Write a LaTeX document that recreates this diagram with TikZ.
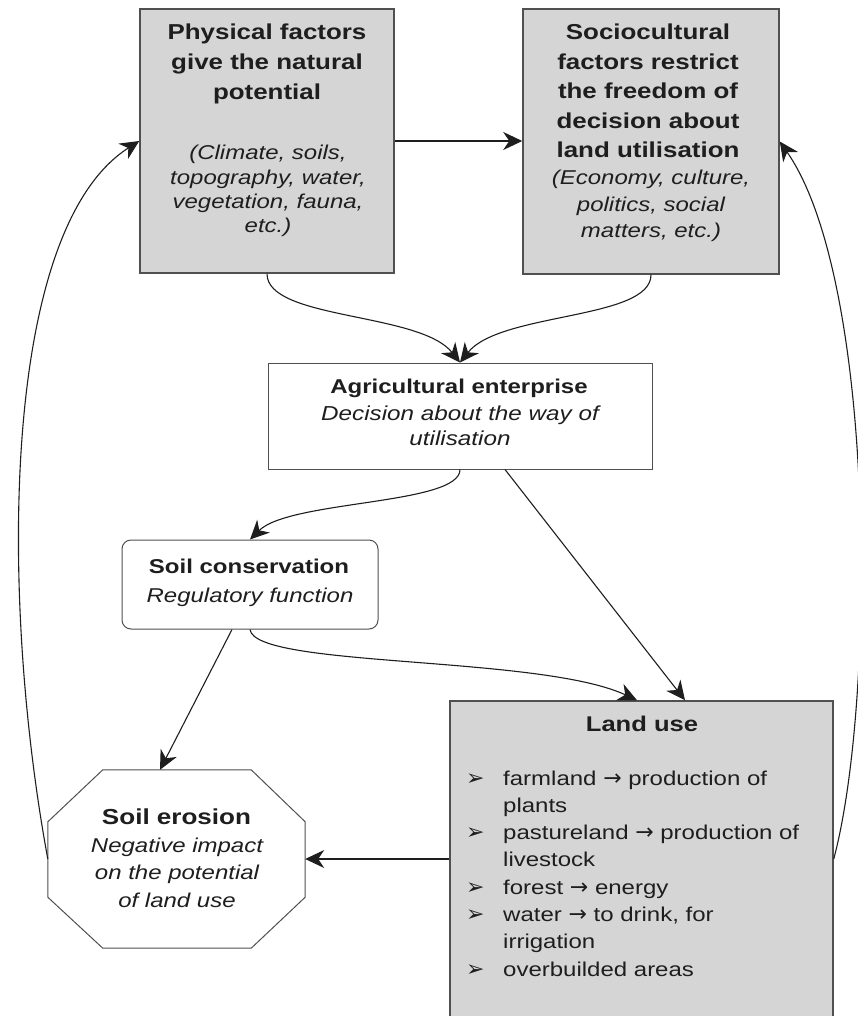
\documentclass[tikz,border=0pt]{standalone}
\usepackage{fontspec}
\setmainfont{Liberation Sans}[FakeStretch=1.2]
\newfontfamily\dejavu{DejaVu Sans}
\usetikzlibrary{arrows.meta,calc}
\definecolor{boxgray}{RGB}{213,213,213}
\definecolor{edge}{RGB}{80,80,80}
\definecolor{ink}{RGB}{30,30,30}
\newcommand{\blk}[4]{{\fontsize{#1}{#2}\selectfont#3\begin{tabular}[t]{@{}c@{}}#4\end{tabular}}}
\newcommand{\bul}{{\dejavu\fontsize{22}{22}\selectfont ➢}}
\newcommand{\rarr}{{\dejavu\fontsize{22}{22}\selectfont →}}
\begin{document}
\begin{tikzpicture}[x=1pt,y=-1pt,
  graybox/.style={draw=edge, line width=1.5pt, fill=boxgray, rectangle, inner sep=0pt},
  whitebox/.style={draw=edge, line width=1pt, fill=white, rectangle, inner sep=0pt},
  txt/.style={inner sep=0pt, text=ink},
  arr/.style={draw=ink, line width=1.1pt, -{Stealth[length=19pt,width=18pt,inset=6pt]}}]
\useasboundingbox (0,0) rectangle (858,1016);

% boxes
\node[graybox, minimum width=254pt, minimum height=264pt] (phys) at (267,141) {};
\node[graybox, minimum width=256pt, minimum height=265pt] (socio) at (651,141.5) {};
\node[whitebox, minimum width=384pt, minimum height=106pt] (agri) at (460,416) {};
\node[whitebox, rounded corners=9pt, minimum width=256pt, minimum height=89pt] (cons) at (250,584.5) {};
\node[inner sep=0pt, minimum width=257pt, minimum height=178pt] (eros) at (176.5,859) {};
\draw[draw=edge, line width=1pt, fill=white]
  ([xshift=55pt]eros.north west) -- ([xshift=-54pt]eros.north east)
  -- ([yshift=-52pt]eros.north east) -- ([yshift=51pt]eros.south east)
  -- ([xshift=-54pt]eros.south east) -- ([xshift=55pt]eros.south west)
  -- ([yshift=51pt]eros.south west) -- ([yshift=-52pt]eros.north west) -- cycle;
\node[graybox, minimum width=383pt, minimum height=316pt] (land) at (641.5,859) {};

% texts
\node[txt, anchor=base] (physB) at (267,40) {\blk{21.6}{30}{\bfseries}{Physical factors\\give the natural\\potential}};
\node[txt, anchor=base] (physI) at (268,160) {\blk{20}{24.3}{\itshape}{(Climate, soils,\\topography, water,\\vegetation, fauna,\\etc.)}};
\node[txt, anchor=base] (socioB) at (648,40) {\blk{21.6}{29.5}{\bfseries}{Sociocultural\\factors restrict\\the freedom of\\decision about\\land utilisation}};
\node[txt, anchor=base] (socioI) at (651,185) {\blk{20}{26.5}{\itshape}{(Economy, culture,\\politics, social\\matters, etc.)}};
\node[txt, anchor=base] (agriB) at (459,393) {\blk{20}{26}{\bfseries}{Agricultural enterprise}};
\node[txt, anchor=base] (agriI) at (460,420) {\blk{20.2}{25.5}{\itshape}{Decision about the way of\\utilisation}};
\node[txt, anchor=base] (consB) at (249,573) {\blk{20}{26}{\bfseries}{Soil conservation}};
\node[txt, anchor=base] (consI) at (250,602) {\blk{20}{26}{\itshape}{Regulatory function}};
\node[txt, anchor=base] (erosB) at (176.5,824) {\blk{21.7}{26}{\bfseries}{Soil erosion}};
\node[txt, anchor=base] (erosI) at (177,852) {\blk{20}{27.5}{\itshape}{Negative impact\\on the potential\\of land use}};
\node[txt, anchor=base] (landB) at (642,731) {\blk{21.3}{26}{\bfseries}{Land use}};
\node[txt, anchor=base west] (landL) at (466,785) {{\fontsize{20}{27.3}\selectfont
  \begin{tabular}[t]{@{}p{37pt}@{}l@{}}
  \bul & farmland \rarr{} production of\\
       & plants\\
  \bul & pastureland \rarr{} production of\\
       & livestock\\
  \bul & forest \rarr{} energy\\
  \bul & water \rarr{} to drink, for\\
       & irrigation\\
  \bul & overbuilded areas
  \end{tabular}}};

% connectors
\draw[arr] (phys.east) -- (phys.east -| socio.west);
\draw[arr] (phys.south) .. controls (267,320) and (420,312) .. (agri.north);
\draw[arr] (socio.south) .. controls (651,320) and (500,312) .. (agri.north);
\draw[arr] (agri.south) .. controls (460,505) and (290,500) .. (cons.north);
\draw[arr] ([xshift=45pt]agri.south) -- ([xshift=43.5pt]land.north);
\draw[arr] (cons.south) .. controls (255,668) and (540,655) .. ([xshift=-4.5pt]land.north);
\draw[arr] ([xshift=-18pt]cons.south) -- ([xshift=-16.5pt]eros.north);
\draw[arr] (land.west) -- (eros.east);
\draw[arr] (eros.west) .. controls (0,600) and (0,230) .. (phys.west);
\draw[arr] (land.east) .. controls (876,700) and (876,280) .. (socio.east);
\end{tikzpicture}
\end{document}
